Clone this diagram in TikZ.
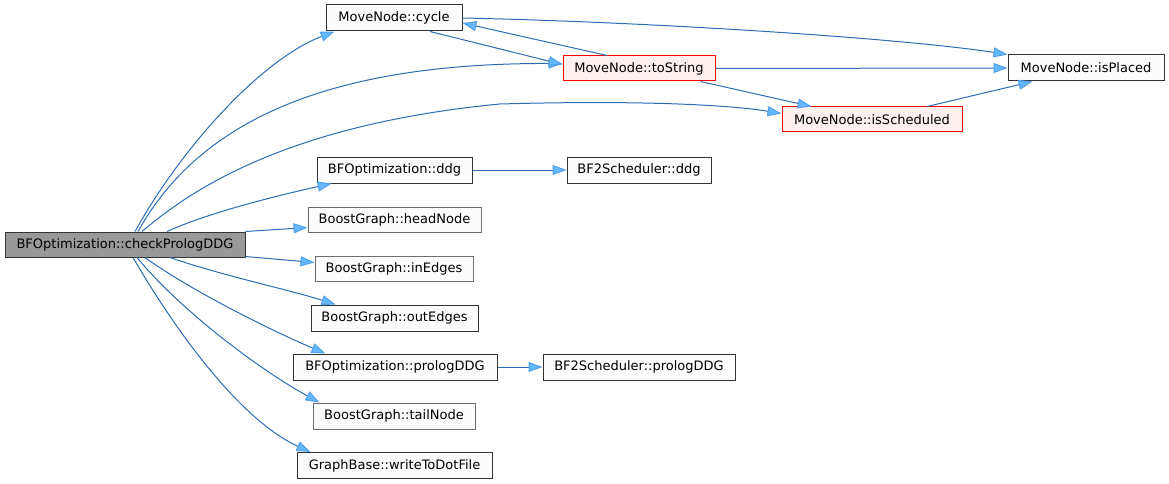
\documentclass[tikz,border=0pt]{standalone}
\usepackage{fontspec}
\setmainfont{DejaVu Sans}
\usetikzlibrary{arrows.meta}
\definecolor{edgecol}{RGB}{45,108,178}
\definecolor{arrfill}{RGB}{99,184,255}
\definecolor{arrbd}{RGB}{80,160,235}
\definecolor{darkbd}{RGB}{51,51,51}
\definecolor{graybd}{RGB}{110,110,110}
\definecolor{nodefill}{RGB}{252,252,252}
\definecolor{redfill}{RGB}{255,240,240}
\definecolor{mainfill}{RGB}{153,153,153}
\tikzset{
 fn/.style={draw=darkbd, fill=nodefill, line width=1pt, inner sep=0pt, minimum height=26pt, font=\fontsize{13}{15}\selectfont, text=black},
 fngray/.style={fn, draw=graybd},
 fnred/.style={fn, draw=red, fill=redfill},
 fnmain/.style={fn, fill=mainfill},
 edge/.style={draw=edgecol, line width=1pt, -{Triangle[length=14pt,width=10pt,fill=arrfill,color=arrbd]}},
}
\begin{document}
\begin{tikzpicture}[x=1pt,y=-1pt]
\useasboundingbox (0,0) rectangle (1169,484);
% nodes
\node[fnmain, minimum width=240pt, minimum height=25pt] (check) at (125,244.5) {BFOptimization::checkPrologDDG};
\node[fn, minimum width=136pt] (cycle) at (394,18) {MoveNode::cycle};
\node[fnred, minimum width=152pt, minimum height=25pt] (tostr) at (639,68.5) {MoveNode::toString};
\node[fn, minimum width=156pt] (placed) at (1086,68) {MoveNode::isPlaced};
\node[fnred, minimum width=180pt, minimum height=25pt] (sched) at (872,119.5) {MoveNode::isScheduled};
\node[fn, minimum width=155pt] (ddg) at (394.5,170) {BFOptimization::ddg};
\node[fn, minimum width=144pt] (bfddg) at (639,170) {BF2Scheduler::ddg};
\node[fngray, minimum width=173pt, minimum height=25pt] (head) at (394.5,219.5) {BoostGraph::headNode};
\node[fngray, minimum width=158pt, minimum height=25pt] (inedg) at (394,268.5) {BoostGraph::inEdges};
\node[fn, minimum width=167pt] (outedg) at (394.5,318) {BoostGraph::outEdges};
\node[fn, minimum width=204pt] (prolog) at (395,367) {BFOptimization::prologDDG};
\node[fn, minimum width=192pt] (bfprolog) at (639,367) {BF2Scheduler::prologDDG};
\node[fngray, minimum width=162pt] (tail) at (394,416) {BoostGraph::tailNode};
\node[fn, minimum width=195pt] (wtd) at (394.5,465.5) {GraphBase::writeToDotFile};
% edges from checkPrologDDG
\draw[edge] ([xshift=10pt]check.north) .. controls (180,150) and (260,60) .. ([xshift=9pt]cycle.south west);
\draw[edge] ([xshift=13pt]check.north) .. controls (200,120) and (330,63) .. ([yshift=5pt]tostr.west);
\draw[edge] ([xshift=17pt]check.north) .. controls (185,195) and (280,125) .. (500,104) .. controls (640,100) and (730,105) .. ([yshift=6pt]sched.west);
\draw[edge] ([xshift=42pt]check.north) .. controls (210,212) and (280,195) .. ([xshift=15pt]ddg.south west);
\draw[edge] (check.north east) -- ([yshift=-8pt]head.west);
\draw[edge] ([yshift=1pt]check.south east) -- ([yshift=6pt]inedg.west);
\draw[edge] ([xshift=45pt]check.south) .. controls (220,275) and (290,290) .. ([xshift=25pt]outedg.north west);
\draw[edge] ([xshift=20pt]check.south) .. controls (190,290) and (270,330) .. ([xshift=33pt]prolog.north west);
\draw[edge] ([xshift=12pt]check.south) .. controls (180,310) and (260,370) .. ([xshift=7pt]tail.north west);
\draw[edge] ([xshift=8pt]check.south) .. controls (175,330) and (240,420) .. ([xshift=14pt]wtd.north west);
% upper cluster
\draw[edge] ([xshift=36pt]cycle.south) -- ([yshift=4pt]tostr.west);
\draw[edge] ([xshift=-32pt]tostr.north) -- ([yshift=-5pt]cycle.east);
\draw[edge] (cycle.east) .. controls (650,22) and (900,38) .. (placed.north west);
\draw[edge] (tostr.east) -- (placed.west);
\draw[edge] ([xshift=-15pt]tostr.south east) -- ([xshift=30pt]sched.north west);
\draw[edge] ([xshift=55pt]sched.north) -- ([xshift=25pt]placed.south west);
\draw[edge] (ddg.east) -- (bfddg.west);
\draw[edge] (prolog.east) -- (bfprolog.west);
\end{tikzpicture}
\end{document}
